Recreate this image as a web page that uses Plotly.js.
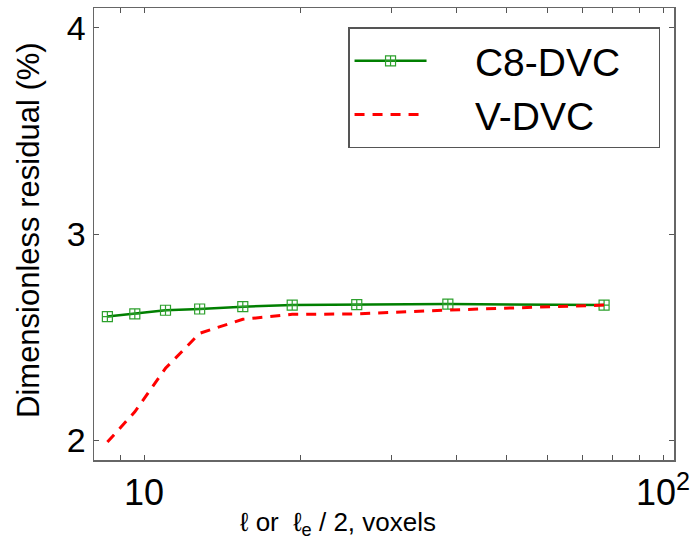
<!DOCTYPE html>
<html>
<head>
<meta charset="utf-8">
<script src="https://cdn.plot.ly/plotly-3.0.1.min.js"></script>
<style>html,body{margin:0;padding:0;background:#fff;}#chart{width:697px;height:544px;}</style>
</head>
<body>
<div id="chart"></div>
<script>
const xValues = [8.5, 9.6, 11.0, 12.8, 15.5, 19.3, 25.7, 38.5, 77.0];
const c8dvc = [2.599, 2.612, 2.630, 2.636, 2.647, 2.655, 2.657, 2.660, 2.655];
const vdvc = [1.99, 2.137, 2.348, 2.518, 2.586, 2.610, 2.612, 2.631, 2.655];
const seriesNames = ['C8-DVC', 'V-DVC'];
const xTickVals = [9, 10, 20, 30, 40, 50, 60, 70, 80, 90, 100];
const xTickText = ['', '10', '', '', '', '', '', '', '', '', '10<sup>2</sup>'];
const yTickVals = [2, 3, 4];
const yTickText = ['2', '3', '4'];
const xTitle = 'ℓ or  ℓ<sub>e</sub> / 2, voxels';
const yTitle = 'Dimensionless residual (%)';

const font = 'Liberation Sans, Arial, sans-serif';
const pad = s => '\u00a0\u00a0\u00a0\u00a0' + s + '\u00a0\u00a0\u00a0';

const traces = [
  {
    x: xValues, y: c8dvc, name: pad(seriesNames[0]), type: 'scatter', mode: 'lines+markers',
    line: {color: '#007f00', width: 2.5},
    marker: {symbol: 'square-cross-open', size: 10, color: '#2ca02c', line: {width: 1.2, color: '#2ca02c'}}
  },
  {
    x: xValues, y: vdvc, name: pad(seriesNames[1]), type: 'scatter', mode: 'lines',
    line: {color: '#ff0000', width: 3, dash: '10px,8px'}
  }
];

const layout = {
  width: 697, height: 544,
  margin: {l: 94, r: 23, t: 8, b: 84},
  paper_bgcolor: '#ffffff', plot_bgcolor: '#ffffff',
  font: {family: font, color: '#000'},
  showlegend: true,
  legend: {
    x: 0.438, y: 0.957, xanchor: 'left', yanchor: 'top',
    bgcolor: '#ffffff', bordercolor: '#555555', borderwidth: 1.5,
    font: {family: font, size: 39, color: '#000'},
    itemwidth: 72
  },
  xaxis: {
    type: 'log', range: [Math.log10(8.01), Math.log10(105)],
    tickmode: 'array', tickvals: xTickVals, ticktext: xTickText,
    ticks: 'inside', ticklen: 5, tickwidth: 1, tickcolor: '#555',
    showline: true, linecolor: '#666', linewidth: 1.5, mirror: 'ticks',
    showgrid: false, zeroline: false,
    tickfont: {family: font, size: 36, color: '#000'}
  },
  yaxis: {
    range: [1.903, 4.097],
    tickmode: 'array', tickvals: yTickVals, ticktext: yTickText,
    ticks: 'inside', ticklen: 5, tickwidth: 1, tickcolor: '#555',
    showline: true, linecolor: '#666', linewidth: 1.5, mirror: 'ticks',
    showgrid: false, zeroline: false,
    tickfont: {family: font, size: 34, color: '#000'}
  },
  annotations: [
    {text: xTitle, xref: 'paper', yref: 'paper', x: 0.42, y: -0.14, xanchor: 'center', yanchor: 'middle',
     showarrow: false, font: {family: font, size: 26, color: '#000'}},
    {text: yTitle, xref: 'paper', yref: 'paper', x: -0.112, y: 0.509, xanchor: 'center', yanchor: 'middle',
     textangle: -90, showarrow: false, font: {family: font, size: 31, color: '#000'}}
  ]
};

Plotly.newPlot('chart', traces, layout, {displayModeBar: false, staticPlot: true});
</script>
</body>
</html>
